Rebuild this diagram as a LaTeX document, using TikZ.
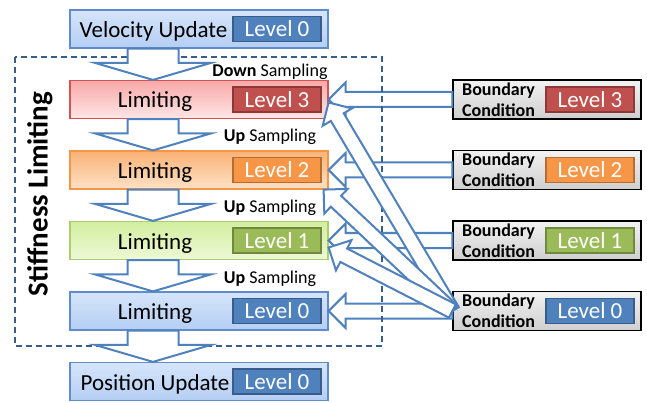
\documentclass[tikz,border=0pt]{standalone}
\usepackage{fontspec}
\setmainfont{Carlito}
\usetikzlibrary{calc}
\definecolor{tagblue}{RGB}{79,129,189}
\definecolor{tagbluedark}{RGB}{56,93,138}
\definecolor{tagred}{RGB}{192,80,77}
\definecolor{tagreddark}{RGB}{140,56,54}
\definecolor{tagorange}{RGB}{247,150,70}
\definecolor{tagorangedark}{RGB}{182,109,49}
\definecolor{taggreen}{RGB}{155,187,89}
\definecolor{taggreendark}{RGB}{113,137,63}
\definecolor{boxblue}{RGB}{95,140,205}
\definecolor{boxred}{RGB}{212,84,84}
\definecolor{boxorange}{RGB}{245,150,70}
\definecolor{boxgreen}{RGB}{172,205,112}
\begin{document}
\begin{tikzpicture}[x=1pt,y=-1pt,
 mainbox/.style={draw,line width=1.2pt,minimum width=258pt,minimum height=38pt,inner sep=0pt},
 bluebox/.style={mainbox,draw=boxblue,top color={rgb,255:red,214;green,229;blue,250},bottom color={rgb,255:red,180;green,206;blue,244}},
 redbox/.style={mainbox,draw=boxred,top color={rgb,255:red,248;green,168;blue,168},bottom color={rgb,255:red,255;green,230;blue,230}},
 orangebox/.style={mainbox,draw=boxorange,top color={rgb,255:red,250;green,178;blue,118},bottom color={rgb,255:red,253;green,225;blue,198}},
 greenbox/.style={mainbox,draw=boxgreen,top color={rgb,255:red,210;green,238;blue,158},bottom color={rgb,255:red,238;green,249;blue,214}},
 tagbox/.style={draw,line width=1.5pt,minimum width=88pt,minimum height=25pt,inner sep=0pt,text=white,font=\fontsize{23}{26}\selectfont},
 bcbox/.style={draw=black,line width=1.3pt,top color=gray!10,bottom color=gray!38,minimum width=188pt,minimum height=39pt,inner sep=0pt},
 bctext/.style={anchor=west,inner sep=0pt,align=left,font=\fontsize{18}{21}\selectfont\bfseries},
 steptext/.style={anchor=base,inner sep=0pt,font=\fontsize{23}{26}\selectfont},
 samplabel/.style={anchor=base,inner sep=0pt,font=\fontsize{18}{20}\selectfont},
 blockarrow/.style n args={3}{draw=tagblue,line width=2pt,fill=white,
  to path={let \p1=(\tikztostart),\p2=(\tikztotarget),
   \n1={atan2(\y2-\y1,\x2-\x1)},\n2={veclen(\x2-\x1,\y2-\y1)} in
   ($(\p1)+(\n1+90:#1pt)$) -- ($(\p1)+(\n1:\n2-#3pt)+(\n1+90:#1pt)$)
   -- ($(\p1)+(\n1:\n2-#3pt)+(\n1+90:#2pt)$) -- (\p2)
   -- ($(\p1)+(\n1:\n2-#3pt)+(\n1-90:#2pt)$) -- ($(\p1)+(\n1:\n2-#3pt)+(\n1-90:#1pt)$)
   -- ($(\p1)+(\n1-90:#1pt)$) -- cycle}}]
 \useasboundingbox (0,0) rectangle (647,403);

 \node[bluebox] (vel) at (199,29) {};
 \node[redbox] (lim3) at (199,99.5) {};
 \node[orangebox] (lim2) at (199,170) {};
 \node[greenbox] (lim1) at (199,240.5) {};
 \node[bluebox] (lim0) at (199,311) {};
 \node[bluebox] (pos) at (199,381.5) {};

 \node[steptext] (velt) at (153.5,37.5) {Velocity Update};
 \node[steptext] (lim3t) at (155,108) {Limiting};
 \node[steptext] (lim2t) at (155,178.5) {Limiting};
 \node[steptext] (lim1t) at (155,249) {Limiting};
 \node[steptext] (lim0t) at (155,319.5) {Limiting};
 \node[steptext] (post) at (155,390) {Position Update};

 \node[tagbox,fill=tagblue,draw=tagbluedark] (veltag) at (277,29) {Level 0};
 \node[tagbox,fill=tagred,draw=tagreddark] (lim3tag) at (277,99.5) {Level 3};
 \node[tagbox,fill=tagorange,draw=tagorangedark] (lim2tag) at (277,170) {Level 2};
 \node[tagbox,fill=taggreen,draw=taggreendark] (lim1tag) at (277,240.5) {Level 1};
 \node[tagbox,fill=tagblue,draw=tagbluedark] (lim0tag) at (277,311) {Level 0};
 \node[tagbox,fill=tagblue,draw=tagbluedark] (postag) at (277,381.5) {Level 0};

 \node[bcbox] (bc3) at (547,99.5) {};
 \node[bcbox] (bc2) at (547,170) {};
 \node[bcbox] (bc1) at (547,240.5) {};
 \node[bcbox] (bc0) at (547,311) {};
 \node[bctext] (bc3t) at (462,99.5) {Boundary\\Condition};
 \node[bctext] (bc2t) at (462,170) {Boundary\\Condition};
 \node[bctext] (bc1t) at (462,240.5) {Boundary\\Condition};
 \node[bctext] (bc0t) at (462,311) {Boundary\\Condition};
 \node[tagbox,fill=tagred,draw=tagreddark] (bc3tag) at (590,99.5) {Level 3};
 \node[tagbox,fill=tagorange,draw=tagorangedark] (bc2tag) at (590,170) {Level 2};
 \node[tagbox,fill=taggreen,draw=taggreendark] (bc1tag) at (590,240.5) {Level 1};
 \node[tagbox,fill=tagblue,draw=tagbluedark] (bc0tag) at (590,311) {Level 0};

 \draw[blockarrow={7.5}{17}{17}] (bc3.west) to (lim3.east);
 \draw[blockarrow={7.5}{17}{17}] (bc2.west) to (lim2.east);
 \draw[blockarrow={7.5}{17}{17}] (bc1.west) to (lim1.east);
 \draw[blockarrow={7.5}{17}{17}] (bc0.west) to (lim0.east);

 \draw[draw=tagbluedark,line width=2pt,dash pattern=on 6pt off 4pt] (15,57) rectangle (382,346);
 \node[rotate=90,inner sep=0pt,font=\fontsize{29}{32}\selectfont\bfseries] (stiff) at (40,194) {Stiffness Limiting};

 \draw[blockarrow={25.5}{58}{17}] ([xshift=-46pt]vel.south) to ([xshift=-46pt]lim3.north);
 \draw[blockarrow={25.5}{58}{17}] ([xshift=-46pt]lim3.south) to ([xshift=-46pt]lim2.north);
 \draw[blockarrow={25.5}{58}{17}] ([xshift=-46pt]lim2.south) to ([xshift=-46pt]lim1.north);
 \draw[blockarrow={25.5}{58}{17}] ([xshift=-46pt]lim1.south) to ([xshift=-46pt]lim0.north);
 \draw[blockarrow={25.5}{58}{17}] ([xshift=-46pt]lim0.south) to ([xshift=-46pt]pos.north);

 \node[samplabel] (down3) at (270,77) {\textbf{Down} Sampling};
 \node[samplabel] (up2) at (270,142) {\textbf{Up} Sampling};
 \node[samplabel] (up1) at (270,213) {\textbf{Up} Sampling};
 \node[samplabel] (up0) at (270,283) {\textbf{Up} Sampling};

 \draw[blockarrow={7.5}{17}{17}] (bc0.west) to ([yshift=-3pt]lim3.east);
 \draw[blockarrow={7.5}{17}{17}] (bc0.west) to ([xshift=-5pt]lim2.south east);
 \draw[blockarrow={7.5}{17}{17}] (bc0.west) to ([yshift=-7pt]lim1.east);
\end{tikzpicture}
\end{document}
